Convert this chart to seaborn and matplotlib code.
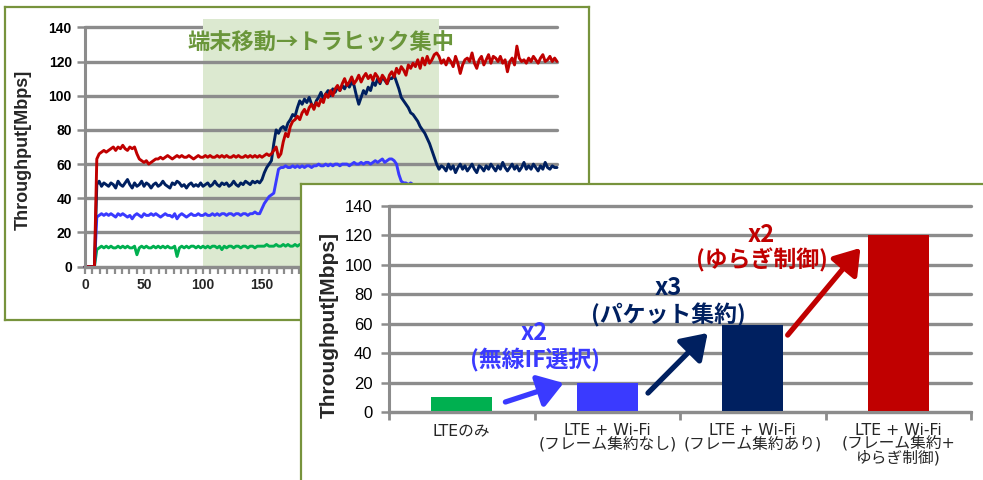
import numpy as np
import matplotlib
matplotlib.use("Agg")
import matplotlib.pyplot as plt
from matplotlib.patches import Rectangle
from matplotlib.ticker import MultipleLocator, FixedLocator
import seaborn as sns

# ---------------------------------------------------------------
# Time series (throughput vs. elapsed time, sampled every 2 s)
# ---------------------------------------------------------------
time_s = np.arange(0, 401, 2)

tput_lte_wifi_jitter = [  # LTE + Wi-Fi (frame aggregation + jitter control)
    0, 0, 0, 0, 0, 63, 66, 67, 68, 67,
    68, 69, 70, 68, 70, 69, 71, 69, 68, 70,
    69, 70, 66, 63, 62, 61, 62, 60, 61, 62,
    63, 63, 64, 63, 64, 65, 64, 63, 64, 65,
    64, 65, 64, 64, 65, 64, 63, 64, 65, 64,
    64, 65, 64, 65, 64, 64, 65, 64, 65, 64,
    65, 64, 64, 65, 64, 65, 64, 64, 65, 64,
    65, 64, 65, 64, 65, 64, 65, 66, 65, 66,
    68, 70, 64, 66, 73, 78, 76, 82, 85, 86,
    88, 86, 90, 92, 89, 93, 95, 92, 96, 94,
    98, 96, 101, 99, 103, 100, 104, 106, 103, 107,
    110, 106, 108, 111, 107, 109, 112, 108, 111, 113,
    110, 112, 109, 113, 111, 108, 112, 110, 107, 112,
    114, 111, 116, 113, 117, 115, 112, 118, 116, 119,
    117, 121, 116, 122, 118, 123, 119, 121, 124, 125,
    123, 119, 121, 118, 122, 120, 117, 123, 119, 113,
    118, 121, 122, 120, 125, 119, 116, 121, 123, 118,
    121, 124, 119, 123, 122, 120, 123, 119, 121, 114,
    120, 122, 118, 129, 122, 120, 121, 119, 122, 120,
    123, 121, 119, 122, 124, 120, 121, 123, 120, 122,
    120,
]

tput_lte_wifi_agg = [  # LTE + Wi-Fi (frame aggregation)
    0, 0, 0, 0, 0, 48, 50, 47, 49, 48,
    47, 49, 48, 46, 50, 48, 47, 49, 51, 48,
    46, 49, 47, 48, 50, 47, 49, 48, 46, 48,
    49, 47, 48, 50, 48, 47, 46, 49, 48, 50,
    49, 47, 48, 46, 48, 49, 47, 48, 47, 49,
    47, 48, 49, 47, 48, 50, 48, 47, 49, 48,
    49, 47, 48, 50, 48, 47, 49, 48, 50, 49,
    48, 50, 49, 50, 49, 51, 55, 58, 60, 62,
    72, 80, 78, 81, 82, 80, 84, 86, 89, 88,
    93, 97, 95, 98, 96, 99, 95, 93, 97, 99,
    102, 98, 101, 103, 100, 104, 102, 105, 103, 106,
    104, 107, 105, 108, 106, 100, 95, 99, 103, 101,
    105, 103, 108, 106, 110, 107, 111, 109, 107, 110,
    110, 112, 108, 104, 99, 97, 95, 93, 90, 89,
    87, 85, 82, 80, 78, 75, 72, 68, 64, 60,
    57, 59, 58, 56, 60, 57, 59, 55, 58, 60,
    57, 59, 56, 58, 60, 57, 55, 59, 58, 56,
    59, 57, 60, 58, 56, 59, 57, 61, 58, 56,
    58, 60, 57, 59, 56, 58, 61, 57, 59, 57,
    60, 58, 56, 59, 57, 61, 58, 57, 59, 58,
    58,
]

tput_lte_wifi = [  # LTE + Wi-Fi (no aggregation)
    0, 0, 0, 0, 0, 29, 30, 31, 30, 31,
    30, 31, 30, 29, 31, 30, 31, 30, 29, 30,
    28, 30, 31, 30, 29, 31, 30, 30, 31, 30,
    31, 30, 29, 30, 31, 30, 30, 29, 31, 28,
    30, 31, 30, 29, 30, 31, 30, 30, 31, 30,
    30, 31, 30, 30, 31, 30, 31, 30, 31, 31,
    30, 31, 31, 30, 31, 31, 30, 31, 31, 30,
    31, 31, 32, 31, 31, 34, 37, 39, 41, 42,
    43, 50, 57, 58, 58, 59, 58, 58, 59, 58,
    59, 58, 59, 58, 59, 59, 58, 59, 59, 60,
    59, 59, 60, 59, 60, 59, 60, 60, 59, 60,
    60, 60, 59, 60, 61, 60, 60, 61, 60, 61,
    61, 60, 61, 62, 61, 62, 63, 61, 62, 63,
    63, 62, 60, 54, 50, 49, 49, 48, 49, 48,
    48, 47, 46, 45, 45, 44, 45, 44, 45, 44,
    45, 44, 44, 45, 44, 45, 44, 44, 45, 44,
    44, 45, 44, 44, 45, 44, 45, 44, 44, 45,
    44, 44, 45, 44, 45, 44, 44, 45, 44, 44,
    45, 44, 44, 45, 44, 44, 45, 44, 45, 44,
    44, 45, 44, 44, 45, 44, 45, 44, 44, 45,
    44,
]

tput_lte = [  # LTE only
    0, 0, 0, 0, 0, 10, 11, 12, 11, 12,
    11, 12, 11, 11, 12, 11, 12, 11, 12, 11,
    11, 12, 7, 11, 12, 11, 12, 11, 11, 12,
    11, 12, 11, 12, 11, 12, 11, 11, 12, 6,
    11, 12, 11, 12, 11, 12, 12, 11, 12, 11,
    12, 11, 12, 11, 12, 12, 11, 12, 10, 12,
    11, 12, 12, 11, 12, 12, 11, 12, 12, 11,
    12, 12, 11, 12, 12, 12, 12, 13, 12, 12,
    12, 13, 12, 12, 13, 12, 13, 12, 12, 13,
    12, 13, 13, 12, 13, 12, 13, 13, 12, 13,
    13, 12, 13, 13, 12, 13, 13, 12, 13, 13,
    12, 13, 13, 12, 13, 12, 13, 13, 12, 13,
    13, 12, 13, 12, 13, 13, 12, 13, 13, 12,
    13, 13, 12, 13, 12, 13, 13, 12, 13, 13,
    12, 13, 13, 12, 13, 12, 13, 13, 12, 13,
    13, 12, 13, 13, 12, 13, 12, 13, 13, 12,
    13, 13, 12, 13, 12, 13, 13, 12, 13, 13,
    12, 13, 13, 12, 13, 13, 12, 13, 12, 13,
    13, 12, 13, 13, 12, 13, 13, 12, 13, 12,
    13, 13, 12, 13, 13, 12, 13, 12, 13, 13,
    12,
]

# Period of terminal movement / traffic concentration (s)
move_start, move_end = 100, 300
time_ticks = [0, 50, 100, 150, 200, 250, 300, 350, 400]
time_tick_labels = ["0", "50", "100", "150", "", "", "", "", ""]

# ---------------------------------------------------------------
# Average throughput per configuration
# ---------------------------------------------------------------
categories = [
    "LTEのみ",
    "LTE + Wi-Fi\n(フレーム集約なし)",
    "LTE + Wi-Fi\n(フレーム集約あり)",
    "LTE + Wi-Fi\n(フレーム集約+\nゆらぎ制御)",
]
bar_values = [10, 20, 59, 120]

gain_labels = ["x2", "x3", "x2"]
gain_notes = ["(無線IF選択)", "(パケット集約)", "(ゆらぎ制御)"]

# ---------------------------------------------------------------
# Styling
# ---------------------------------------------------------------
C_GREEN = "#00B050"
C_BLUE = "#3A3AFF"
C_NAVY = "#002060"
C_RED = "#C00000"
C_FRAME = "#77933C"
C_TITLE = "#6A963A"
C_SHADE = "#DCE9D0"
C_GRID = "#8C8C8C"
bar_colors = [C_GREEN, C_BLUE, C_NAVY, C_RED]

sns.set_theme(style="white")
plt.rcParams["font.family"] = ["Noto Sans CJK JP", "DejaVu Sans"]

W, H = 983, 480
fig = plt.figure(figsize=(W / 100, H / 100), dpi=100)
fig.patch.set_facecolor("white")


def box(left, top, right, bottom):
    return [left / W, 1 - bottom / H, (right - left) / W, (bottom - top) / H]


def frame_panel(rect, z):
    a = fig.add_axes(rect, zorder=z)
    a.set_xticks([])
    a.set_yticks([])
    a.set_facecolor("white")
    for s in a.spines.values():
        s.set_color(C_FRAME)
        s.set_linewidth(1.6)
    return a


def style_value_axis(a, labelsize, bold):
    a.set_ylim(0, 140)
    a.set_yticks(range(0, 141, 20))
    a.yaxis.grid(True, color=C_GRID, linewidth=2.4)
    a.xaxis.grid(False)
    a.set_axisbelow(True)
    for side in ("top", "right"):
        a.spines[side].set_visible(False)
    for side in ("left", "bottom"):
        a.spines[side].set_color(C_GRID)
        a.spines[side].set_linewidth(2.2)
    a.tick_params(axis="y", left=True, length=6, width=1.8, color=C_GRID,
                  labelsize=labelsize, labelcolor="black")
    for lab in a.get_yticklabels():
        lab.set_fontfamily("Liberation Sans")
        lab.set_fontweight("bold" if bold else "normal")
    for gl in a.get_ygridlines():
        gl.set_clip_on(False)


# ---------------- time-series panel (behind) -------------------
frame_panel(box(5, 7, 589, 320), 0)
ax_ts = fig.add_axes(box(85, 27.3, 557, 266.7), zorder=1)
ax_ts.set_facecolor("none")

ax_ts.add_patch(Rectangle((move_start, 0), move_end - move_start, 145,
                          facecolor=C_SHADE, edgecolor="none", zorder=0.2,
                          clip_on=False))
ax_ts.add_patch(Rectangle((move_start, 125), move_end - move_start, 20,
                          facecolor=C_SHADE, edgecolor="none", zorder=0.7,
                          clip_on=False))

for series, col in [(tput_lte, C_GREEN), (tput_lte_wifi, C_BLUE),
                    (tput_lte_wifi_agg, C_NAVY), (tput_lte_wifi_jitter, C_RED)]:
    sns.lineplot(x=time_s, y=series, color=col, linewidth=2.1, ax=ax_ts,
                 zorder=2, clip_on=False)

ax_ts.set_xlim(0, 400)
ax_ts.set_xticks(time_ticks)
ax_ts.set_xticklabels(time_tick_labels)
ax_ts.xaxis.set_minor_locator(MultipleLocator(6.25))
style_value_axis(ax_ts, 10, True)
ax_ts.tick_params(axis="x", which="both", bottom=True, length=5, width=1.6,
                  color=C_GRID, labelsize=10, pad=3)
for lab in ax_ts.get_xticklabels():
    lab.set_fontfamily("Liberation Sans")
    lab.set_fontweight("bold")
ax_ts.set_xlabel("")
ax_ts.set_ylabel("Throughput[Mbps]", fontsize=13, fontweight="bold",
                 family="Liberation Sans")
ax_ts.yaxis.set_label_coords(-0.112, 0.487)
ax_ts.text((move_start + move_end) / 2, 130.4, "端末移動→トラヒック集中",
           ha="center", va="center", fontsize=16, fontweight="bold",
           color=C_TITLE, zorder=1.0)

# ---------------- bar panel (front) ----------------------------
frame_panel(box(301, 184, 1010, 510), 2)
ax_bar = fig.add_axes(box(389, 206, 971, 412), zorder=3)
ax_bar.set_facecolor("none")

sns.barplot(x=categories, y=bar_values, hue=categories, palette=bar_colors,
            width=0.42, saturation=1, legend=False, ax=ax_bar, zorder=2,
            linewidth=0, edgecolor="none")
ax_bar.set_xlim(-0.5, 3.5)
style_value_axis(ax_bar, 12, False)
ax_bar.tick_params(axis="y", pad=6)
ax_bar.set_xticks(range(len(categories)))
ax_bar.set_xticklabels(categories, fontsize=11.3, linespacing=0.85,
                       family=["DejaVu Sans", "Noto Sans CJK JP"])
ax_bar.xaxis.set_minor_locator(FixedLocator(np.arange(-0.5, 3.6, 1)))
ax_bar.tick_params(axis="x", which="major", bottom=True, length=0, pad=8)
ax_bar.tick_params(axis="x", which="minor", bottom=True, length=6, width=2,
                   color=C_GRID)
ax_bar.set_xlabel("")
ax_bar.set_ylabel("Throughput[Mbps]", fontsize=15, fontweight="bold",
                  family="Liberation Sans")
ax_bar.yaxis.set_label_coords(-0.086, 0.42)

# gain annotations and arrows
gain_colors = [C_BLUE, C_NAVY, C_RED]
gain_pos = [(0.50, 53.7, 35.4), (1.42, 84.3, 65.9), (2.06, 120.3, 103.3)]
arrows = [((0.30, 6.8), (0.70, 19.7)),
          ((1.28, 12.9), (1.69, 53.7)),
          ((2.24, 52.3), (2.74, 111.5))]
for lbl, note, col, (gx, gy1, gy2), (tail, tip) in zip(
        gain_labels, gain_notes, gain_colors, gain_pos, arrows):
    ax_bar.text(gx, gy1, lbl, color=col, fontsize=17, fontweight="bold",
                ha="center", va="center", zorder=4)
    ax_bar.text(gx, gy2, note, color=col, fontsize=16.5, fontweight="bold",
                ha="center", va="center", zorder=4)
    ax_bar.annotate("", xy=tip, xytext=tail, zorder=4,
                    arrowprops=dict(arrowstyle="-|>,head_length=0.75,head_width=0.5",
                                    color=col, lw=3.8, mutation_scale=20,
                                    shrinkA=0, shrinkB=0))

fig.savefig("out.png", dpi=100)
